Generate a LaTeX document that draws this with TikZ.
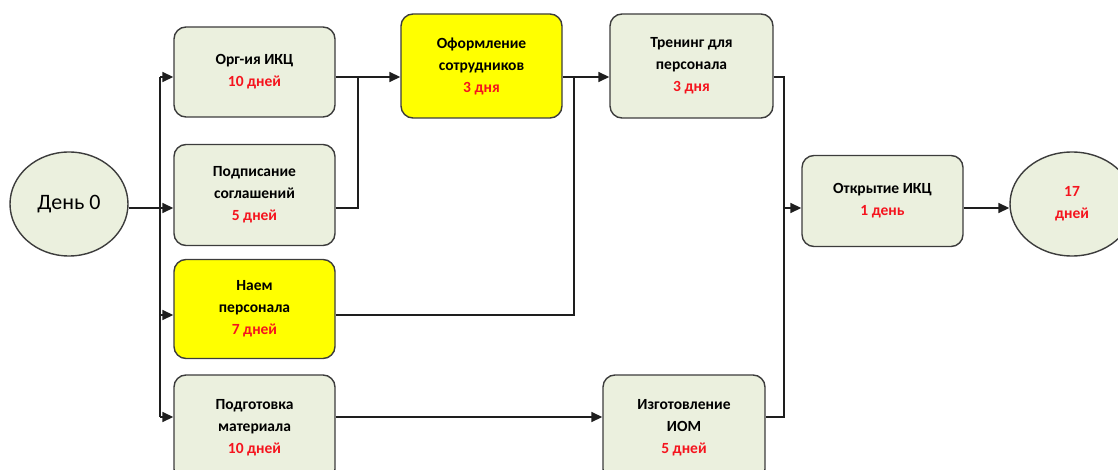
\documentclass[tikz,border=0pt]{standalone}
\usepackage{fontspec}
\setmainfont{Carlito}
\usetikzlibrary{shapes.geometric,arrows.meta}
\definecolor{boxgreen}{HTML}{EBF0DE}
\definecolor{bordergray}{HTML}{3C3C3C}
\definecolor{linegray}{HTML}{1E1E1E}
\definecolor{dayred}{HTML}{F5141E}
\definecolor{hotyellow}{HTML}{FFFF00}
\newcommand{\days}[1]{\textcolor{dayred}{#1}}
\tikzset{
  task/.style={draw=bordergray, line width=1.4pt, rounded corners=12pt, fill=boxgreen,
    minimum width=161pt, align=center, inner sep=0pt,
    font=\fontsize{15.5}{22}\selectfont\bfseries},
  hot/.style={task, fill=hotyellow},
  event/.style={ellipse, draw=bordergray, line width=1.4pt, fill=boxgreen, inner sep=0pt},
  link/.style={draw=linegray, line width=1.6pt},
  arr/.style={link, -{Triangle[length=11pt,width=10pt]}}
}
\begin{document}
\begin{tikzpicture}[x=1pt,y=-1pt]
\useasboundingbox (0,0) rectangle (1118,470);
\clip (0,0) rectangle (1118,470);

% start and finish events
\node[event, minimum width=118pt, minimum height=104pt, font=\fontsize{22}{24}\selectfont]
  (d0) at (69,204) {День 0};
\node[event, minimum width=124pt, minimum height=104pt, align=center,
  font=\fontsize{15.5}{22}\selectfont\bfseries]
  (fin) at (1072,204) {\days{17}\\\days{дней}};

% work packages
\node[task, minimum height=90pt]  (org)  at (254.5,72)  {Орг-ия ИКЦ\\\days{10 дней}};
\node[task, minimum height=101pt] (pod)  at (254.5,195) {Подписание\\соглашений\\\days{5 дней}};
\node[hot,  minimum height=99pt]  (naem) at (254.5,309) {Наем\\персонала\\\days{7 дней}};
\node[task, minimum height=106pt] (podg) at (254.5,428) {Подготовка\\материала\\\days{10 дней}};
\node[hot,  minimum height=104pt] (ofo)  at (481.5,66)  {Оформление\\сотрудников\\\days{3 дня}};
\node[task, minimum height=104pt, minimum width=163pt] (tren) at (691.5,66) {Тренинг для\\персонала\\\days{3 дня}};
\node[task, minimum height=106pt, minimum width=162pt] (izg)  at (684,428) {Изготовление\\ИОМ\\\days{5 дней}};
\node[task, minimum height=91pt]  (otk)  at (882.5,201) {Открытие ИКЦ\\\days{1 день}};

% routing levels and junction columns
\coordinate (yA) at (0,77);
\coordinate (yB) at (0,208);
\coordinate (yC) at (0,315);
\coordinate (yD) at (0,417);
\coordinate (s1) at (160,77);
\coordinate (s2) at (160,417);
\coordinate (j1) at (358,0);
\coordinate (j2) at (574,0);
\coordinate (j3) at (784,0);

% start branches
\draw[arr] (d0.east |- yB) -- (pod.west |- yB);
\draw[link] (s1) -- (s2);
\draw[arr] (s1) -- (org.west |- s1);
\draw[arr] (s1 |- yC) -- (naem.west |- yC);
\draw[arr] (s2) -- (podg.west |- s2);

% into staffing
\draw[arr] (org.east |- yA) -- (ofo.west |- yA);
\draw[link] (pod.east |- yB) -| (j1 |- yA);

% into training
\draw[arr] (ofo.east |- yA) -- (tren.west |- yA);
\draw[link] (naem.east |- yC) -| (j2 |- yA);

% materials
\draw[arr] (podg.east |- yD) -- (izg.west |- yD);

% merge into opening
\draw[link] (tren.east |- yA) -| (j3 |- yD) -- (izg.east |- yD);
\draw[arr] (j3 |- yB) -- (otk.west |- yB);
\draw[arr] (otk.east |- yB) -- (fin.west |- yB);
\end{tikzpicture}
\end{document}
